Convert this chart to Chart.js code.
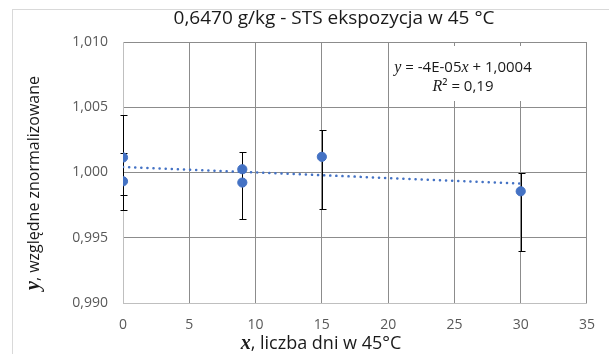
<!DOCTYPE html>
<html>
<head>
<meta charset="utf-8">
<script src="https://cdn.jsdelivr.net/npm/chart.js@4/dist/chart.umd.min.js"></script>
<style>
  body { margin: 0; background: #fff; }
  canvas { display: block; }
</style>
</head>
<body>
<canvas id="myChart" width="609" height="354"></canvas>
<script>
// measured points (x = days at 45 °C)
const xDays = [0, 0, 9, 9, 15, 30];
const yValues = [1.00115, 0.99933, 1.00025, 0.99923, 1.0012, 0.99856];
const errLow = [0.99831, 0.99715, 0.99641, null, 0.99723, 0.99395];
const errHigh = [1.00441, 1.00151, 1.00158, null, 1.00325, 1.0000];

// excel linear trendline
const trendX = [0, 30];
const trendY = [1.00043, 0.99915];

const xTicks = [0, 5, 10, 15, 20, 25, 30, 35];
const yTicks = ["0,990", "0,995", "1,000", "1,005", "1,010"];

const titleText = "0,6470 g/kg - STS ekspozycja w 45 °C";
const xTitle = ", liczba dni w 45°C";
const yTitle = ", względne znormalizowane";
const eqLine1 = ["y", " = -4E-05", "x", " + 1,0004"];
const eqLine2 = ["R", "² = 0,19"];

const blue = "#4472C4";
const sans = "'Open Sans', sans-serif";
const serif = "'Liberation Serif', serif";

const drawParts = (ctx, parts, x, y) => {
    let total = 0;
    parts.forEach((p) => {
        ctx.font = p.font;
        total += ctx.measureText(p.text).width;
    });
    let cx = x - total / 2;
    parts.forEach((p) => {
        ctx.font = p.font;
        ctx.fillText(p.text, cx, y);
        cx += ctx.measureText(p.text).width;
    });
};

const errorBars = {
    id: "errorBars",
    beforeDatasetsDraw(chart) {
        const ctx = chart.ctx;
        const xs = chart.scales.x;
        const ys = chart.scales.y;
        ctx.save();
        ctx.strokeStyle = "#000";
        ctx.lineWidth = 1;
        for (let i = 0; i < xDays.length; i++) {
            if (errLow[i] === null) continue;
            const px = Math.round(xs.getPixelForValue(xDays[i])) + 0.5;
            const top = Math.round(ys.getPixelForValue(errHigh[i])) + 0.5;
            const bot = Math.round(ys.getPixelForValue(errLow[i])) + 0.5;
            ctx.beginPath();
            ctx.moveTo(px, top);
            ctx.lineTo(px, bot);
            ctx.moveTo(px - 3, top);
            ctx.lineTo(px + 4, top);
            ctx.moveTo(px - 3, bot);
            ctx.lineTo(px + 4, bot);
            ctx.stroke();
        }
        ctx.restore();
    },
};

const texts = {
    id: "texts",
    beforeDraw(chart) {
        const ctx = chart.ctx;
        ctx.save();
        ctx.fillStyle = "#fff";
        ctx.fillRect(0, 0, chart.width, chart.height);
        ctx.strokeStyle = "#d9d9d9";
        ctx.strokeRect(12.5, 9.5, 620, 400);
        ctx.restore();
    },
    afterDatasetsDraw(chart) {
        const ctx = chart.ctx;
        ctx.save();
        ctx.textBaseline = "middle";
        ctx.fillStyle = "#1a1a1a";
        ctx.font = "19px " + sans;
        ctx.textAlign = "center";
        ctx.fillText(titleText, 334, 19);
        ctx.textAlign = "left";

        // equation box
        ctx.fillStyle = "#fff";
        ctx.fillRect(391, 46, 145, 55);
        ctx.fillStyle = "#1a1a1a";
        drawParts(ctx, [
            { text: eqLine1[0], font: "italic 16px " + serif },
            { text: eqLine1[1], font: "15px " + sans },
            { text: eqLine1[2], font: "italic 16px " + serif },
            { text: eqLine1[3], font: "15px " + sans },
        ], 463, 68);
        drawParts(ctx, [
            { text: eqLine2[0], font: "italic 16px " + serif },
            { text: eqLine2[1], font: "15px " + sans },
        ], 463, 87);

        // axis titles
        drawParts(ctx, [
            { text: "x", font: "italic bold 20px " + serif },
            { text: xTitle, font: "18px " + sans },
        ], 321, 344);
        ctx.translate(34, 183);
        ctx.rotate(-Math.PI / 2);
        drawParts(ctx, [
            { text: "y", font: "italic bold 20px " + serif },
            { text: yTitle, font: "16px " + sans },
        ], 0, 0);
        ctx.restore();
    },
};

const ctx = document.getElementById("myChart").getContext("2d");
const myChart = new Chart(ctx, {
    type: "scatter",
    data: {
        datasets: [
            {
                data: xDays.map((x, i) => ({ x: x, y: yValues[i] })),
                backgroundColor: blue,
                borderColor: blue,
                pointRadius: 4.6,
                order: 1,
            },
            {
                type: "line",
                data: trendX.map((x, i) => ({ x: x, y: trendY[i] })),
                borderColor: blue,
                borderWidth: 2.5,
                borderDash: [0.1, 6],
                borderCapStyle: "round",
                pointRadius: 0,
                fill: false,
                order: 2,
            },
        ],
    },
    options: {
        responsive: false,
        animation: false,
        devicePixelRatio: 1,
        layout: { padding: { left: 0, top: 42, right: 20, bottom: 0 } },
        plugins: {
            legend: { display: false },
            tooltip: { enabled: false },
        },
        scales: {
            x: {
                type: "linear",
                min: 0,
                max: 35,
                afterBuildTicks: (scale) => {
                    scale.ticks = xTicks.map((v) => ({ value: v }));
                },
                afterFit: (scale) => {
                    scale.height = 51;
                },
                ticks: {
                    padding: 14,
                    color: "#595959",
                    font: { family: "Open Sans", size: 14 },
                    callback: (v) => String(v),
                },
                grid: { color: "#8c8c8c", drawTicks: false },
                border: { color: "#bfbfbf" },
            },
            y: {
                min: 0.99,
                max: 1.01,
                afterBuildTicks: (scale) => {
                    scale.ticks = yTicks.map((t) => ({ value: parseFloat(t.replace(",", ".")) }));
                },
                afterFit: (scale) => {
                    scale.width = 123;
                },
                ticks: {
                    padding: 15,
                    color: "#595959",
                    font: { family: "Open Sans", size: 14 },
                    callback: (v) => v.toFixed(3).replace(".", ","),
                },
                grid: { color: "#8c8c8c", drawTicks: false },
                border: { color: "#bfbfbf" },
            },
        },
    },
    plugins: [texts, errorBars],
});
</script>
</body>
</html>
